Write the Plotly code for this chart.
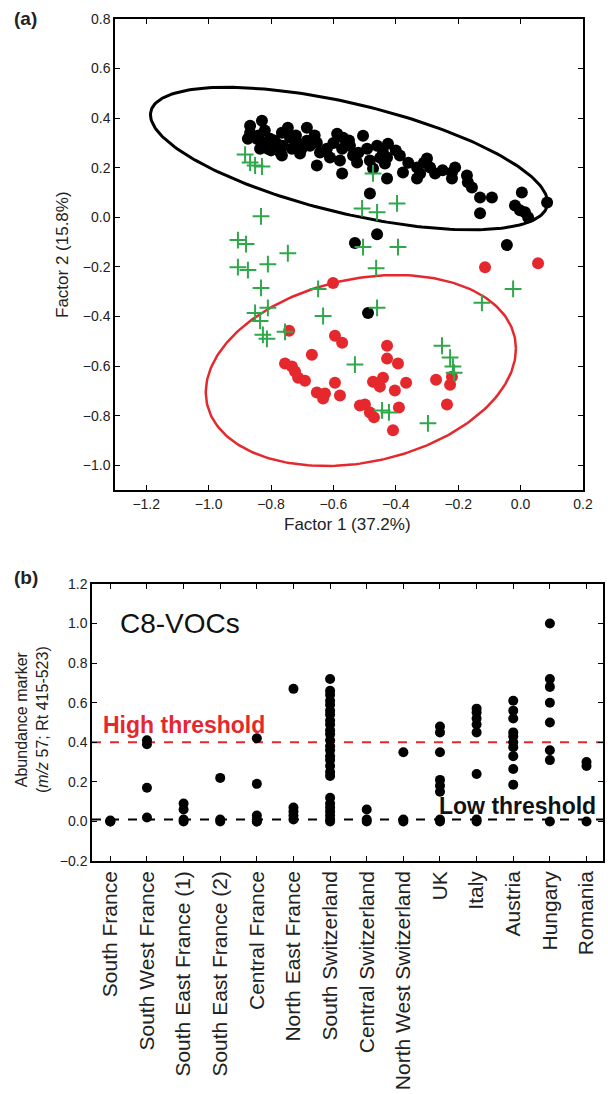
import numpy as np
import plotly.graph_objects as go

# ---------------- Panel (a) data ----------------
black_x = [-0.867, -0.829, -0.867, -0.874, -0.845, -0.826, -0.803, -0.835, -0.810, -0.781,
           -0.765, -0.746, -0.739, -0.762, -0.765, -0.733, -0.717, -0.685, -0.685, -0.707,
           -0.675, -0.653, -0.643, -0.621, -0.611, -0.588, -0.569, -0.572, -0.579, -0.547,
           -0.537, -0.524, -0.505, -0.492, -0.483, -0.473, -0.460, -0.441, -0.435, -0.653,
           -0.572, -0.483, -0.425, -0.428, -0.387, -0.428, -0.377, -0.332, -0.300, -0.290,
           -0.322, -0.332, -0.274, -0.220, -0.210, -0.220, -0.172, -0.169, -0.156, -0.130,
           -0.092, -0.130, 0.004, -0.018, -0.002, 0.014, 0.024, 0.085, -0.044, -0.460,
           -0.531, -0.489,
           -0.840, -0.820, -0.790, -0.800, -0.770, -0.720, -0.700, -0.660, -0.600, -0.550,
           -0.520, -0.450, -0.400, -0.360, -0.310, -0.250]
black_y = [0.369, 0.390, 0.341, 0.317, 0.317, 0.301, 0.317, 0.277, 0.277, 0.297,
           0.341, 0.361, 0.321, 0.289, 0.249, 0.277, 0.301, 0.361, 0.309, 0.257,
           0.289, 0.301, 0.261, 0.277, 0.241, 0.337, 0.321, 0.277, 0.229, 0.289,
           0.249, 0.221, 0.329, 0.277, 0.229, 0.197, 0.289, 0.261, 0.217, 0.209,
           0.177, 0.096, 0.297, 0.241, 0.249, 0.157, 0.181, 0.201, 0.237, 0.201,
           0.177, 0.157, 0.177, 0.181, 0.201, 0.157, 0.169, 0.141, 0.120, 0.080,
           0.080, 0.016, 0.100, 0.048, 0.028, 0.020, 0.000, 0.060, -0.112, -0.068,
           -0.104, -0.386,
           0.330, 0.350, 0.310, 0.270, 0.260, 0.330, 0.280, 0.330, 0.300, 0.310,
           0.260, 0.240, 0.270, 0.220, 0.220, 0.190]

green_x = [-0.883, -0.867, -0.851, -0.829, -0.832, -0.906, -0.880, -0.746, -0.906, -0.874,
           -0.810, -0.832, -0.851, -0.810, -0.835, -0.826, -0.813, -0.755, -0.649, -0.633,
           -0.508, -0.460, -0.396, -0.473, -0.463, -0.460, -0.505, -0.393, -0.024, -0.124,
           -0.252, -0.226, -0.217, -0.213, -0.531, -0.444, -0.422, -0.297]
green_y = [0.253, 0.221, 0.209, 0.205, 0.004, -0.092, -0.108, -0.145, -0.201, -0.213,
           -0.189, -0.285, -0.386, -0.365, -0.418, -0.474, -0.490, -0.462, -0.289, -0.398,
           0.036, 0.020, 0.056, 0.177, -0.205, -0.365, -0.120, -0.120, -0.289, -0.345,
           -0.518, -0.566, -0.602, -0.627, -0.594, -0.779, -0.787, -0.831]

red_x = [-0.601, -0.742, -0.595, -0.572, -0.669, -0.428, -0.428, -0.393, -0.755, -0.733,
         -0.723, -0.713, -0.691, -0.595, -0.653, -0.627, -0.633, -0.579, -0.473, -0.441,
         -0.451, -0.403, -0.367, -0.515, -0.499, -0.483, -0.470, -0.390, -0.409, -0.271,
         -0.226, -0.220, -0.236, -0.114, 0.056]
red_y = [-0.265, -0.458, -0.478, -0.506, -0.554, -0.518, -0.570, -0.590, -0.590, -0.602,
         -0.622, -0.647, -0.659, -0.667, -0.707, -0.711, -0.731, -0.719, -0.663, -0.647,
         -0.683, -0.699, -0.667, -0.759, -0.755, -0.787, -0.807, -0.767, -0.859, -0.655,
         -0.675, -0.643, -0.755, -0.201, -0.185]

# ellipse: centre, first and second conjugate semi-diameters (data units)
black_ellipse = {"c": (-0.550, 0.237), "u": (0.635, -0.191), "v": (-0.041, -0.215)}
red_ellipse = {"c": (-0.512, -0.618), "u": (0.497, 0.088), "v": (0.0, -0.375)}

# ---------------- Panel (b) data ----------------
regions = ["South France", "South West France", "South East France (1)", "South East France (2)",
           "Central France", "North East France", "South Switzerland", "Central Switzerland",
           "North West Switzerland", "UK", "Italy", "Austria", "Hungary", "Romania"]
values_by_region = [
    [0.0, 0.0, 0.005],
    [0.41, 0.39, 0.17, 0.02],
    [0.09, 0.06, 0.01, 0.0],
    [0.22, 0.01, 0.0],
    [0.42, 0.19, 0.03, 0.01, 0.0, 0.0],
    [0.67, 0.07, 0.05, 0.03, 0.01],
    [0.72, 0.66, 0.64, 0.61, 0.59, 0.56, 0.54, 0.51, 0.49, 0.46, 0.44, 0.41, 0.38, 0.36,
     0.33, 0.31, 0.28, 0.25, 0.23, 0.12, 0.09, 0.07, 0.05, 0.03, 0.01, 0.0],
    [0.06, 0.01, 0.0],
    [0.35, 0.01, 0.0],
    [0.48, 0.45, 0.35, 0.21, 0.18, 0.15, 0.01, 0.0],
    [0.57, 0.55, 0.52, 0.49, 0.45, 0.24, 0.01, 0.0],
    [0.61, 0.56, 0.52, 0.45, 0.43, 0.40, 0.375, 0.33, 0.265, 0.186],
    [1.0, 0.72, 0.68, 0.60, 0.50, 0.36, 0.31, 0.0],
    [0.30, 0.28, 0.0],
]
high_threshold = 0.40
low_threshold = 0.01

RED = "#e5282d"
GREEN = "#2ea84a"
FONT = "Liberation Sans, Arial, Helvetica, sans-serif"
X2_RANGE = [-0.5, 13.45]

fig = go.Figure()


def ellipse_xy(e, n=240):
    t = np.linspace(0, 2 * np.pi, n)
    cx, cy = e["c"]
    ux, uy = e["u"]
    vx, vy = e["v"]
    return cx + ux * np.cos(t) + vx * np.sin(t), cy + uy * np.cos(t) + vy * np.sin(t)


ex, ey = ellipse_xy(black_ellipse)
fig.add_trace(go.Scatter(x=ex, y=ey, mode="lines", line=dict(color="black", width=3),
                         xaxis="x", yaxis="y", hoverinfo="skip"))
ex, ey = ellipse_xy(red_ellipse)
fig.add_trace(go.Scatter(x=ex, y=ey, mode="lines", line=dict(color=RED, width=2.5),
                         xaxis="x", yaxis="y", hoverinfo="skip"))
fig.add_trace(go.Scatter(x=black_x, y=black_y, mode="markers",
                         marker=dict(color="black", size=12, line=dict(width=0)),
                         xaxis="x", yaxis="y"))
fig.add_trace(go.Scatter(x=red_x, y=red_y, mode="markers",
                         marker=dict(color=RED, size=12, line=dict(width=0)),
                         xaxis="x", yaxis="y"))
fig.add_trace(go.Scatter(x=green_x, y=green_y, mode="markers",
                         marker=dict(symbol="cross-thin", size=12, line=dict(color=GREEN, width=2)),
                         xaxis="x", yaxis="y"))

# panel (b)
px_, py_ = [], []
for i, vals in enumerate(values_by_region):
    for v in vals:
        px_.append(i)
        py_.append(v)

fig.add_trace(go.Scatter(x=X2_RANGE, y=[high_threshold] * 2, mode="lines",
                         line=dict(color=RED, width=2, dash="dash"), xaxis="x2", yaxis="y2"))
fig.add_trace(go.Scatter(x=X2_RANGE, y=[low_threshold] * 2, mode="lines",
                         line=dict(color="black", width=2, dash="dash"), xaxis="x2", yaxis="y2"))
fig.add_trace(go.Scatter(x=px_, y=py_, mode="markers",
                         marker=dict(color="black", size=10, line=dict(width=0)),
                         xaxis="x2", yaxis="y2"))

W, H = 608, 1094
axis_common = dict(showline=True, linecolor="black", linewidth=1.5, mirror="ticks",
                   ticks="inside", ticklen=5, tickcolor="black", showgrid=False,
                   zeroline=False, automargin=False,
                   tickfont=dict(family=FONT, size=14, color="#222"))

fig.update_layout(
    width=W, height=H, margin=dict(l=0, r=0, t=0, b=0, pad=0, autoexpand=False),
    paper_bgcolor="white", plot_bgcolor="white", showlegend=False,
    font=dict(family=FONT, color="#222"),
    xaxis=dict(domain=[115 / W, 583 / W], range=[-1.3, 0.2], tickvals=[-1.2, -1.0, -0.8, -0.6, -0.4, -0.2, 0.0, 0.2],
               tickformat=".1f", anchor="y", **axis_common),
    yaxis=dict(domain=[1 - 490 / H, 1 - 19 / H], range=[-1.1, 0.8],
               tickvals=[-1.0, -0.8, -0.6, -0.4, -0.2, 0.0, 0.2, 0.4, 0.6, 0.8],
               tickformat=".1f", anchor="x", **axis_common),
    xaxis2=dict(domain=[92 / W, 603 / W], range=X2_RANGE, tickvals=list(range(len(regions))),
                ticktext=regions, tickangle=-90, anchor="y2",
                **{**axis_common, "tickfont": dict(family=FONT, size=21, color="#222")}),
    yaxis2=dict(domain=[1 - 861 / H, 1 - 584 / H], range=[-0.2, 1.2],
                tickvals=[-0.2, 0.0, 0.2, 0.4, 0.6, 0.8, 1.0, 1.2], tickformat=".1f",
                anchor="x2", **axis_common),
)

ann = [
    dict(text="<b>(a)</b>", x=12 / W, y=1 - 18 / H, xref="paper", yref="paper",
         xanchor="left", yanchor="middle", showarrow=False, font=dict(size=19, color="#222")),
    dict(text="<b>(b)</b>", x=12 / W, y=1 - 577 / H, xref="paper", yref="paper",
         xanchor="left", yanchor="middle", showarrow=False, font=dict(size=19, color="#222")),
    dict(text="Factor 1 (37.2%)", x=348 / W, y=1 - 524 / H, xref="paper", yref="paper",
         xanchor="center", yanchor="middle", showarrow=False, font=dict(size=17, color="#222")),
    dict(text="Factor 2 (15.8%)", x=62 / W, y=1 - 255 / H, xref="paper", yref="paper",
         xanchor="center", yanchor="middle", textangle=-90, showarrow=False,
         font=dict(size=17, color="#222")),
    dict(text="Abundance marker<br>(<i>m/z</i> 57; Rt 415-523)", x=32 / W, y=1 - 720 / H,
         xref="paper", yref="paper", xanchor="center", yanchor="middle", textangle=-90,
         showarrow=False, font=dict(size=16, color="#222")),
    dict(text="C8-VOCs", x=0.2, y=1.0, xref="x2", yref="y2", xanchor="left", yanchor="middle",
         showarrow=False, font=dict(size=28, color="#111")),
    dict(text="<b>High threshold</b>", x=-0.25, y=0.485, xref="x2", yref="y2", xanchor="left",
         yanchor="middle", showarrow=False, font=dict(size=23, color=RED)),
    dict(text="<b>Low threshold</b>", x=13.3, y=0.08, xref="x2", yref="y2", xanchor="right",
         yanchor="middle", showarrow=False, font=dict(size=23, color="#111")),
]
fig.update_layout(annotations=ann)

fig.write_html(
    "out.html",
    config={"displayModeBar": False},
    post_script=("document.documentElement.style.margin='0';"
                 "document.body.style.margin='0';document.body.style.overflow='hidden';"
                 "var d=document.getElementById('{plot_id}');"
                 "d.style.position='fixed';d.style.top='0px';d.style.left='0px';"),
)
